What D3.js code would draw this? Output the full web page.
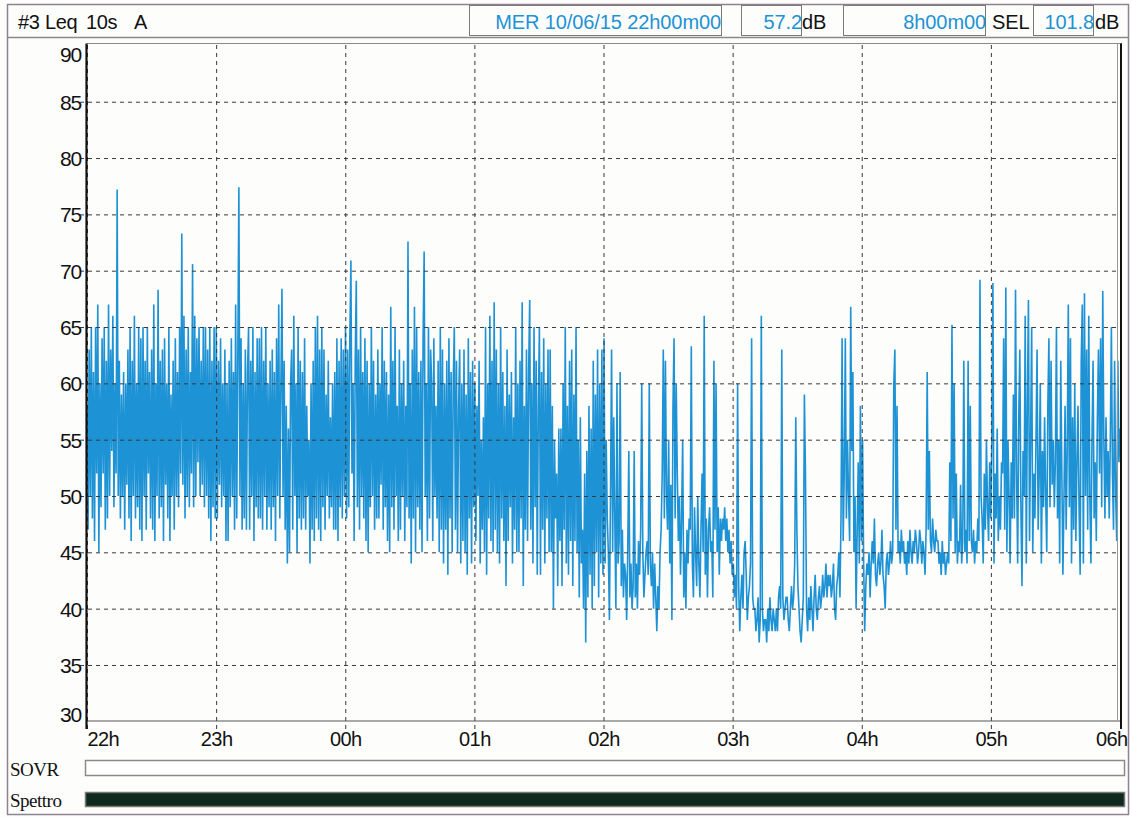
<!DOCTYPE html>
<html>
<head>
<meta charset="utf-8">
<script src="https://cdn.jsdelivr.net/npm/d3@7"></script>
<style>
  body { margin: 0; background: #fff; }
  svg text { font-family: "Liberation Sans", Arial, sans-serif; }
  .serif { font-family: "Liberation Serif", "Times New Roman", serif; }
</style>
</head>
<body>
<svg id="chart" width="1131" height="817"></svg>
<script>
// Leq 10s A-weighted levels (dB), one value every 30 s, grouped by hour
const leq22 = [
  58, 47, 63, 50, 65, 48, 61, 46, 65, 52,
  67, 45, 60, 49, 64, 52, 65, 47, 62, 48,
  67, 50, 63, 54, 66, 49, 60, 52, 77.2, 50,
  62, 48, 59, 50, 61, 47, 60, 51, 63, 48,
  65, 46, 62, 50, 66, 48, 60, 49, 65, 47,
  64, 46, 65, 50, 62, 47, 65, 52, 61, 48,
  63, 47, 67, 46, 60, 50, 68.3, 48, 62, 49,
  63, 46, 64, 51, 60, 48, 65, 46, 59, 50,
  62, 47, 64, 50, 61, 49, 65, 52, 73.3, 51,
  66, 48, 63, 50, 65, 49, 61, 52, 70.6, 49,
  66, 50, 64, 53, 65, 50, 62, 51, 65, 49,
  65, 50, 63, 48, 65, 46, 62, 49, 65, 48
];
const leq23 = [
  65, 48, 62, 51, 64, 49, 60, 50, 63, 46,
  60, 46, 62, 49, 64, 50, 61, 47, 67, 48,
  62, 77.4, 50, 64, 47, 60, 48, 63, 47, 61,
  65, 47, 62, 50, 65, 46, 61, 49, 64, 48,
  64, 48, 65, 47, 62, 50, 65, 47, 60, 49,
  62, 47, 63, 49, 61, 46, 64, 50, 67, 48,
  60, 68.4, 50, 62, 47, 58, 44, 56, 45, 60,
  63, 47, 66, 50, 60, 45, 65, 48, 62, 47,
  61, 48, 64, 47, 58, 50, 55, 44, 60, 47,
  62, 46, 65, 48, 66, 47, 63, 46, 65, 49,
  63, 47, 59, 50, 62, 48, 57, 49, 60, 47,
  61, 47, 64, 46, 62, 49, 64, 48, 63, 50
];
const leq00 = [
  65, 48, 63, 49, 64, 70.9, 52, 60, 46, 62,
  69.1, 49, 63, 47, 65, 50, 61, 48, 64, 46,
  62, 45, 60, 49, 65, 50, 62, 47, 59, 48,
  63, 48, 60, 51, 65, 47, 62, 49, 61, 46,
  59, 45, 66.8, 49, 62, 47, 65, 50, 58, 46,
  63, 47, 60, 50, 62, 46, 58, 49, 72.6, 48,
  60, 44, 63, 48, 66.8, 45, 65, 49, 61, 47,
  62, 45, 64, 71.7, 50, 60, 46, 65, 48, 63,
  60, 46, 64, 50, 58, 48, 62, 45, 65, 47,
  63, 44, 60, 47, 62, 43, 64, 48, 61, 45,
  60, 65, 47, 62, 45, 58, 63, 44, 60, 46,
  63, 45, 59, 43, 64, 48, 61, 44, 62, 49
];
const leq01 = [
  60, 46, 58, 50, 62, 44, 55, 47, 57, 45,
  65, 43, 60, 48, 66, 46, 62, 45, 67.2, 47,
  63, 45, 60, 44, 65, 48, 61, 46, 58, 42,
  63, 46, 59, 49, 61, 44, 57, 47, 65, 45,
  60, 45, 62, 48, 67.2, 42, 58, 47, 63, 46,
  61, 67.4, 47, 60, 44, 65, 49, 62, 43, 58,
  65, 43, 61, 47, 64, 44, 60, 48, 63, 45,
  63, 45, 58, 40, 55, 48, 52, 42, 56, 46,
  56, 42, 60, 47, 65, 44, 58, 43, 62, 46,
  63, 42, 59, 46, 65, 45, 55, 41, 57, 44,
  47, 40, 52, 37, 54, 41, 58, 43, 56, 40,
  62, 42, 59, 45, 63, 41, 60, 44, 63, 43
];
const leq02 = [
  64, 44, 55, 48, 45, 39, 50, 63, 45, 57,
  48, 40, 60, 44, 46, 61, 42, 47, 41, 44,
  43, 39, 45, 54, 41, 44, 40, 42, 54, 41,
  44, 40, 46, 43, 47, 60, 45, 41, 43, 45,
  46, 43, 60, 44, 42, 45, 40, 44, 41, 38,
  42, 40, 45, 47, 52, 63, 48, 62, 50, 47,
  55, 44, 51, 39, 58, 64, 48, 60, 52, 46,
  50, 43, 48, 55, 41, 45, 40, 47, 44, 48,
  47, 63.3, 44, 41, 49, 45, 42, 50, 44, 41,
  47, 52, 45, 66, 43, 48, 41, 47, 49, 45,
  46, 41, 62, 47, 60, 45, 49, 43, 48, 46,
  48, 47, 49, 46, 48, 45, 47, 44, 46, 43
];
const leq03 = [
  44, 41, 43, 40, 60, 42, 38, 41, 43, 40,
  45, 46, 43, 39, 41, 42, 44, 64, 41, 40,
  40, 38, 39, 41, 37, 39, 66, 40, 38, 39,
  39, 37, 40, 38, 41, 39, 38, 40, 39, 38,
  40, 38, 41, 42, 40, 63, 41, 39, 40, 41,
  41, 39, 38, 40, 42, 40, 41, 44, 57, 47,
  42, 40, 38, 37, 39, 41, 59, 52, 40, 38,
  41, 39, 42, 40, 38, 41, 43, 40, 39, 41,
  42, 40, 41, 43, 41, 42, 44, 41, 43, 42,
  43, 41, 42, 44, 40, 39, 42, 43, 45, 41,
  48, 64, 46, 52, 64, 48, 55, 50, 46, 66.8,
  54, 61, 45, 50, 40, 47, 53, 44, 58, 46
];
const leq04 = [
  55, 44, 38, 42, 44, 43, 45, 41, 44, 46,
  44, 48, 43, 42, 44, 45, 43, 44, 47, 43,
  42, 40, 44, 45, 43, 44, 46, 44, 45, 60,
  63, 47, 58, 45, 46, 44, 47, 45, 46, 44,
  45, 43, 46, 44, 47, 45, 44, 46, 45, 47,
  46, 44, 45, 47, 46, 44, 46, 45, 43, 47,
  61, 47, 54, 46, 45, 48, 46, 45, 47, 46,
  46, 44, 45, 43, 46, 44, 45, 43, 44, 45,
  44, 53, 46, 65.2, 48, 60, 45, 52, 44, 46,
  45, 51, 44, 46, 62, 45, 47, 44, 62, 46,
  58, 46, 45, 47, 44, 46, 45, 48, 46, 69.2,
  50, 48, 44, 52, 47, 55, 49, 46, 53, 48
];
const leq05 = [
  55, 68.9, 44, 52, 48, 56, 46, 50, 47, 53,
  52, 64, 47, 68.5, 45, 55, 50, 44, 53, 48,
  59, 48, 68.3, 52, 44, 57, 63, 49, 42, 54,
  50, 66, 44, 58, 67.4, 46, 55, 65, 45, 52,
  48, 55, 63, 47, 52, 60, 44, 54, 49, 57,
  50, 45, 58, 64, 49, 62, 51, 55, 49, 53,
  65, 48, 55, 44, 62, 52, 43, 50, 58, 47,
  54, 67, 49, 64, 44, 57, 47, 60, 46, 53,
  58, 49, 43, 62, 67, 44, 68, 50, 63, 47,
  66, 50, 44, 55, 62, 48, 53, 46, 57, 63,
  52, 64, 49, 68.2, 55, 48, 57, 50, 54, 48,
  55, 65, 52, 47, 62, 50, 46, 62, 53, 56
];

const yTickValues = [30, 35, 40, 45, 50, 55, 60, 65, 70, 75, 80, 85, 90];
const yGridValues = [35, 40, 45, 50, 55, 60, 65, 70, 75, 80, 85];
const startTime = new Date(2015, 5, 10, 22, 0, 0);
const endTime = new Date(2015, 5, 11, 6, 0, 0);

const headerTitle = [["#3", 18], ["Leq", 45], ["10s", 86], ["A", 134]];
const headerStart = "MER 10/06/15 22h00m00";
const headerLeq = "57.2";
const headerDuration = "8h00m00";
const headerSel = "101.8";
const stripLabels = ["SOVR", "Spettro"];

const blue = "#1d92d5";
const svg = d3.select("#chart");

// plot geometry
const P = { left: 87, right: 1120, top: 43.5, bottom: 721 };

const x = d3.scaleTime().domain([startTime, endTime]).range([P.left, P.right]);
const y = d3.scaleLinear().domain([30, 90]).range([721.3, 45.4]);

const values = [].concat(leq22, leq23, leq00, leq01, leq02, leq03, leq04, leq05);
const step = (endTime - startTime) / (values.length - 1);
const series = values.map((v, i) => ({ t: new Date(+startTime + i * step), v }));

// page background and outer frame
svg.append("rect").attr("width", 1131).attr("height", 817).attr("fill", "#fdfdfc");
svg.append("rect").attr("x", 7.5).attr("y", 4.5).attr("width", 1121).attr("height", 810)
  .attr("fill", "none").attr("stroke", "#8c8490").attr("stroke-width", 1.5);

// header row
svg.append("line").attr("x1", 7.5).attr("x2", 1128.5).attr("y1", 37.5).attr("y2", 37.5)
  .attr("stroke", "#8a8a8a").attr("stroke-width", 1.5);
const boxes = [[469, 252], [741, 60], [843, 142], [1033, 60]];
svg.selectAll("rect.hbox").data(boxes).join("rect").attr("class", "hbox")
  .attr("x", d => d[0] + 0.5).attr("y", 5.5).attr("width", d => d[1]).attr("height", 30)
  .attr("fill", "none").attr("stroke", "#7a7a7a").attr("stroke-width", 1);

svg.selectAll("text.htitle").data(headerTitle).join("text").attr("class", "htitle")
  .attr("x", d => d[1]).attr("y", 29).attr("font-size", 20).attr("fill", "#111")
  .attr("letter-spacing", -0.4).text(d => d[0]);

const hText = (txt, xx, anchor, color) => svg.append("text")
  .attr("x", xx).attr("y", 29).attr("font-size", 20).attr("text-anchor", anchor)
  .attr("fill", color).attr("letter-spacing", -0.1).text(txt);
hText(headerStart, 721, "end", blue);
hText(headerLeq, 802, "end", blue);
hText("dB", 802, "start", "#111");
hText(headerDuration, 986, "end", blue);
hText("SEL", 992, "start", "#111");
hText(headerSel, 1094, "end", blue);
hText("dB", 1095, "start", "#111");

// data line
svg.append("clipPath").attr("id", "plotClip").append("rect")
  .attr("x", P.left).attr("y", P.top).attr("width", P.right - P.left).attr("height", P.bottom - P.top);

const line = d3.line().x(d => x(d.t)).y(d => y(d.v));
svg.append("path").datum(series)
  .attr("clip-path", "url(#plotClip)")
  .attr("d", line)
  .attr("fill", "none").attr("stroke", blue).attr("stroke-width", 1.6)
  .attr("stroke-linejoin", "miter");

// horizontal dashed grid
const yGrid = svg.append("g").attr("transform", "translate(80,0)")
  .call(d3.axisLeft(y).tickValues(yGridValues).tickSize(-(P.right - 80)).tickFormat(""));
yGrid.select(".domain").remove();
yGrid.selectAll("line").attr("stroke", "#3a3a3a").attr("stroke-dasharray", "4,4").attr("stroke-width", 1);

// vertical dashed grid with ticks below the axis
const xGrid = svg.append("g").attr("transform", `translate(0,${P.bottom + 8})`)
  .call(d3.axisBottom(x).ticks(d3.timeHour.every(1)).tickSize(-(P.bottom + 8 - P.top)).tickFormat(""));
xGrid.select(".domain").remove();
xGrid.selectAll("line").attr("stroke", "#3a3a3a").attr("stroke-dasharray", "4,4").attr("stroke-width", 1);

// y labels
const yAxis = svg.append("g").attr("transform", "translate(81,0)")
  .call(d3.axisLeft(y).tickValues(yTickValues).tickSize(0).tickPadding(0));
yAxis.select(".domain").remove();
yAxis.selectAll("text")
  .attr("font-size", 21).attr("fill", "#111").attr("letter-spacing", -1.2)
  .attr("font-family", "Liberation Sans, Arial, sans-serif")
  .attr("y", d => Math.min(Math.max(y(d), 54), 714) - y(d))
  .attr("dy", "0.35em");

// x labels
const xAxis = svg.append("g").attr("transform", `translate(0,${P.bottom})`)
  .call(d3.axisBottom(x).ticks(d3.timeHour.every(1)).tickFormat(d3.timeFormat("%Hh")).tickSize(0).tickPadding(0));
xAxis.select(".domain").remove();
xAxis.selectAll("text")
  .attr("font-size", 20).attr("fill", "#111").attr("letter-spacing", -0.6)
  .attr("font-family", "Liberation Sans, Arial, sans-serif")
  .attr("y", 25).attr("dy", 0);
const xt = xAxis.selectAll("text").nodes();
d3.select(xt[0]).attr("text-anchor", "start").attr("x", 0);
d3.select(xt[xt.length - 1]).attr("text-anchor", "end").attr("x", 7);

// plot borders
svg.append("line").attr("x1", P.left).attr("x2", P.right + 2).attr("y1", P.top).attr("y2", P.top)
  .attr("stroke", "#8a8a8a").attr("stroke-width", 1.2);
svg.append("line").attr("x1", P.left).attr("x2", P.right + 2).attr("y1", P.bottom).attr("y2", P.bottom)
  .attr("stroke", "#555").attr("stroke-width", 1);
svg.append("line").attr("x1", 86.5).attr("x2", 86.5).attr("y1", P.top).attr("y2", P.bottom + 8)
  .attr("stroke", "#111").attr("stroke-width", 2.2);
svg.append("line").attr("x1", 1117.5).attr("x2", 1117.5).attr("y1", P.top).attr("y2", P.bottom)
  .attr("stroke", "#999").attr("stroke-width", 1);
svg.append("line").attr("x1", 1121).attr("x2", 1121).attr("y1", P.top).attr("y2", P.bottom + 8)
  .attr("stroke", "#111").attr("stroke-width", 2);

// status strips
svg.append("rect").attr("x", 85.5).attr("y", 760.5).attr("width", 1039).attr("height", 15)
  .attr("fill", "#fff").attr("stroke", "#8a8a8a").attr("stroke-width", 1.5);
svg.append("rect").attr("x", 85.5).attr("y", 792.5).attr("width", 1039).attr("height", 14)
  .attr("fill", "#10291f").attr("stroke", "#777").attr("stroke-width", 1.5);
svg.selectAll("text.strip").data(stripLabels).join("text").attr("class", "strip serif")
  .attr("x", 10).attr("y", (d, i) => i === 0 ? 776 : 807)
  .attr("font-size", 19).attr("fill", "#111").attr("letter-spacing", -0.5).text(d => d);
</script>
</body>
</html>
